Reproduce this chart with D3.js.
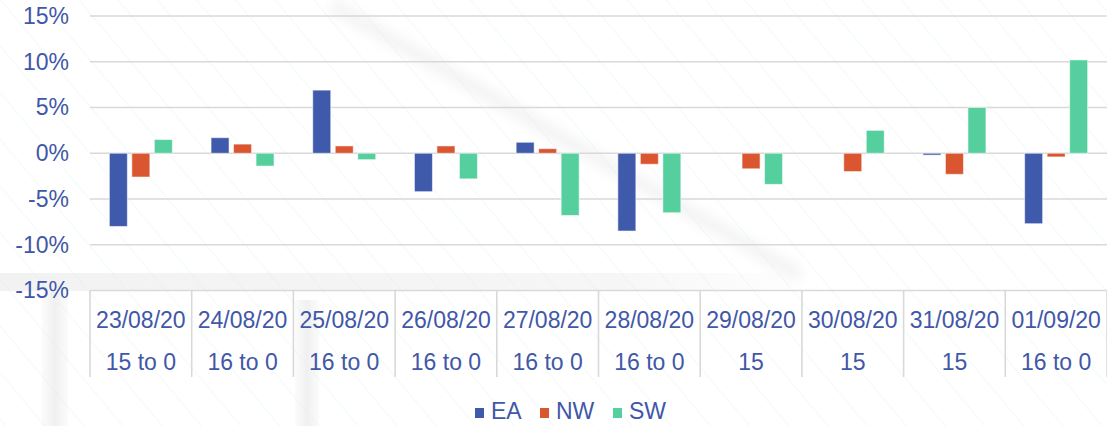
<!DOCTYPE html>
<html>
<head>
<meta charset="utf-8">
<script src="https://cdn.jsdelivr.net/npm/d3@7"></script>
<style>
  html, body { margin: 0; padding: 0; background: #ffffff; }
  svg { display: block; }
  text { font-family: "Liberation Sans", Arial, sans-serif; }
</style>
</head>
<body>
<svg id="chart" width="1107" height="426"></svg>
<script>
// Daily change by region
const dates = ["23/08/20", "24/08/20", "25/08/20", "26/08/20", "27/08/20",
               "28/08/20", "29/08/20", "30/08/20", "31/08/20", "01/09/20"];
const ranges = ["15 to 0", "16 to 0", "16 to 0", "16 to 0", "16 to 0",
                "16 to 0", "15", "15", "15", "16 to 0"];
const seriesNames = ["EA", "NW", "SW"];
const EA = [-8.0, 1.7, 6.9, -4.2, 1.2, -8.5, 0, 0, -0.2, -7.7];
const NW = [-2.6, 1.0, 0.8, 0.8, 0.5, -1.2, -1.7, -2.0, -2.3, -0.4];
const SW = [1.5, -1.4, -0.7, -2.8, -6.8, -6.5, -3.4, 2.5, 5.0, 10.2];
const yTicks = [-15, -10, -5, 0, 5, 10, 15];
const colors = { EA: "#3F5AAA", NW: "#DA5630", SW: "#55CF9E" };

const seriesValues = { EA, NW, SW };
const textColor = "#4157A7";
const gridColor = "#d9d9d9";

const svg = d3.select("#chart");
const W = 1107, H = 426;
const plot = { left: 90, right: 1107, top: 16, bottom: 290.5 };

// ---- background decoration: faint diagonal hatching and soft grey streaks
const defs = svg.append("defs");
const pat = defs.append("pattern")
  .attr("id", "hatch")
  .attr("patternUnits", "userSpaceOnUse")
  .attr("width", 30).attr("height", 30)
  .attr("patternTransform", "rotate(-40)");
pat.append("line")
  .attr("x1", 0).attr("y1", 0).attr("x2", 0).attr("y2", 30)
  .attr("stroke", "#c6efe8").attr("stroke-width", 1).attr("stroke-opacity", 0.55);

const blur = defs.append("filter").attr("id", "soft")
  .attr("x", "-20%").attr("y", "-200%").attr("width", "140%").attr("height", "500%");
blur.append("feGaussianBlur").attr("stdDeviation", 6);

const hGrad = defs.append("linearGradient").attr("id", "bandFade")
  .attr("x1", "0%").attr("x2", "100%");
hGrad.append("stop").attr("offset", "0%").attr("stop-color", "#f2f2f2").attr("stop-opacity", 1);
hGrad.append("stop").attr("offset", "75%").attr("stop-color", "#f4f4f4").attr("stop-opacity", 0.8);
hGrad.append("stop").attr("offset", "100%").attr("stop-color", "#f6f6f6").attr("stop-opacity", 0);

const vGrad = defs.append("linearGradient").attr("id", "vband")
  .attr("x1", "0%").attr("x2", "100%");
vGrad.append("stop").attr("offset", "0%").attr("stop-color", "#f2f2f2").attr("stop-opacity", 0.3);
vGrad.append("stop").attr("offset", "50%").attr("stop-color", "#f0f0f0").attr("stop-opacity", 1);
vGrad.append("stop").attr("offset", "100%").attr("stop-color", "#f2f2f2").attr("stop-opacity", 0.3);

const bg = svg.append("g");
bg.append("rect").attr("width", W).attr("height", H).attr("fill", "#ffffff");
bg.append("rect").attr("x", 0).attr("y", 273).attr("width", 820).attr("height", 18)
  .attr("fill", "url(#bandFade)");
bg.append("rect").attr("x", 42).attr("y", 292).attr("width", 26).attr("height", 134)
  .attr("fill", "url(#vband)");
bg.append("rect").attr("x", 295).attr("y", 300).attr("width", 24).attr("height", 126)
  .attr("fill", "url(#vband)");
// soft diagonal streak across the plot
bg.append("g")
  .attr("transform", "translate(335,0) rotate(30)")
  .append("rect")
  .attr("x", 0).attr("y", 0).attr("width", 540).attr("height", 12)
  .attr("fill", "#ececec").attr("fill-opacity", 0.7)
  .attr("filter", "url(#soft)");
bg.append("rect").attr("width", W).attr("height", H).attr("fill", "url(#hatch)");

// ---- scales
const x0 = d3.scaleBand().domain(dates).range([plot.left, plot.right]).padding(0);
const groupW = 63;
const x1 = d3.scaleBand().domain(seriesNames)
  .range([(x0.bandwidth() - groupW) / 2, (x0.bandwidth() + groupW) / 2])
  .paddingInner(0.2).paddingOuter(0);
const y = d3.scaleLinear().domain([-15, 15]).range([plot.bottom, plot.top]);

// ---- horizontal gridlines
svg.append("g")
  .selectAll("line")
  .data(yTicks)
  .join("line")
  .attr("x1", plot.left).attr("x2", plot.right)
  .attr("y1", d => y(d)).attr("y2", d => y(d))
  .attr("stroke", gridColor).attr("stroke-width", 1.6);

// ---- y axis labels
const yAxis = d3.axisLeft(y).tickValues(yTicks).tickSize(0).tickPadding(0)
  .tickFormat(d => d + "%");
svg.append("g")
  .attr("transform", `translate(69,0)`)
  .call(yAxis)
  .call(g => g.select(".domain").remove())
  .call(g => g.selectAll("text")
    .attr("fill", textColor)
    .style("font-size", "23px")
    .style("font-family", "'Liberation Sans', Arial, sans-serif"));

// ---- category separators below the axis
const sepX = dates.map(d => x0(d)).concat([x0(dates[dates.length - 1]) + x0.bandwidth()]);
svg.append("g")
  .selectAll("line")
  .data(sepX)
  .join("line")
  .attr("x1", d => d).attr("x2", d => d)
  .attr("y1", plot.bottom).attr("y2", 377)
  .attr("stroke", gridColor).attr("stroke-width", 1.6);

// ---- bars
const groups = svg.append("g")
  .selectAll("g")
  .data(dates)
  .join("g")
  .attr("transform", d => `translate(${x0(d)},0)`);

groups.selectAll("rect")
  .data((d, i) => seriesNames.map(s => ({ s, v: seriesValues[s][i] })).filter(o => o.v !== 0))
  .join("rect")
  .attr("x", o => x1(o.s))
  .attr("width", x1.bandwidth())
  .attr("y", o => y(Math.max(0, o.v)))
  .attr("height", o => Math.max(1.5, Math.abs(y(o.v) - y(0))))
  .attr("fill", o => colors[o.s])
  .attr("stroke", "#ffffff").attr("stroke-opacity", 0.55).attr("stroke-width", 1);

// ---- category labels (date and range)
const labels = svg.append("g")
  .selectAll("g")
  .data(dates)
  .join("g")
  .attr("transform", d => `translate(${x0(d) + x0.bandwidth() / 2},0)`);
labels.append("text")
  .attr("y", 328).attr("text-anchor", "middle")
  .attr("fill", textColor).style("font-size", "23px")
  .text(d => d);
labels.append("text")
  .attr("y", 370).attr("text-anchor", "middle")
  .attr("fill", textColor).style("font-size", "23px")
  .text((d, i) => ranges[i]);

// ---- legend
const legendX = [475, 540, 613];
const legend = svg.append("g")
  .selectAll("g")
  .data(seriesNames)
  .join("g")
  .attr("transform", (d, i) => `translate(${legendX[i]},0)`);
legend.append("rect")
  .attr("x", 0).attr("y", 408).attr("width", 9).attr("height", 10)
  .attr("fill", d => colors[d]);
legend.append("text")
  .attr("x", 16).attr("y", 419)
  .attr("fill", textColor).style("font-size", "23px")
  .text(d => d);
</script>
</body>
</html>
